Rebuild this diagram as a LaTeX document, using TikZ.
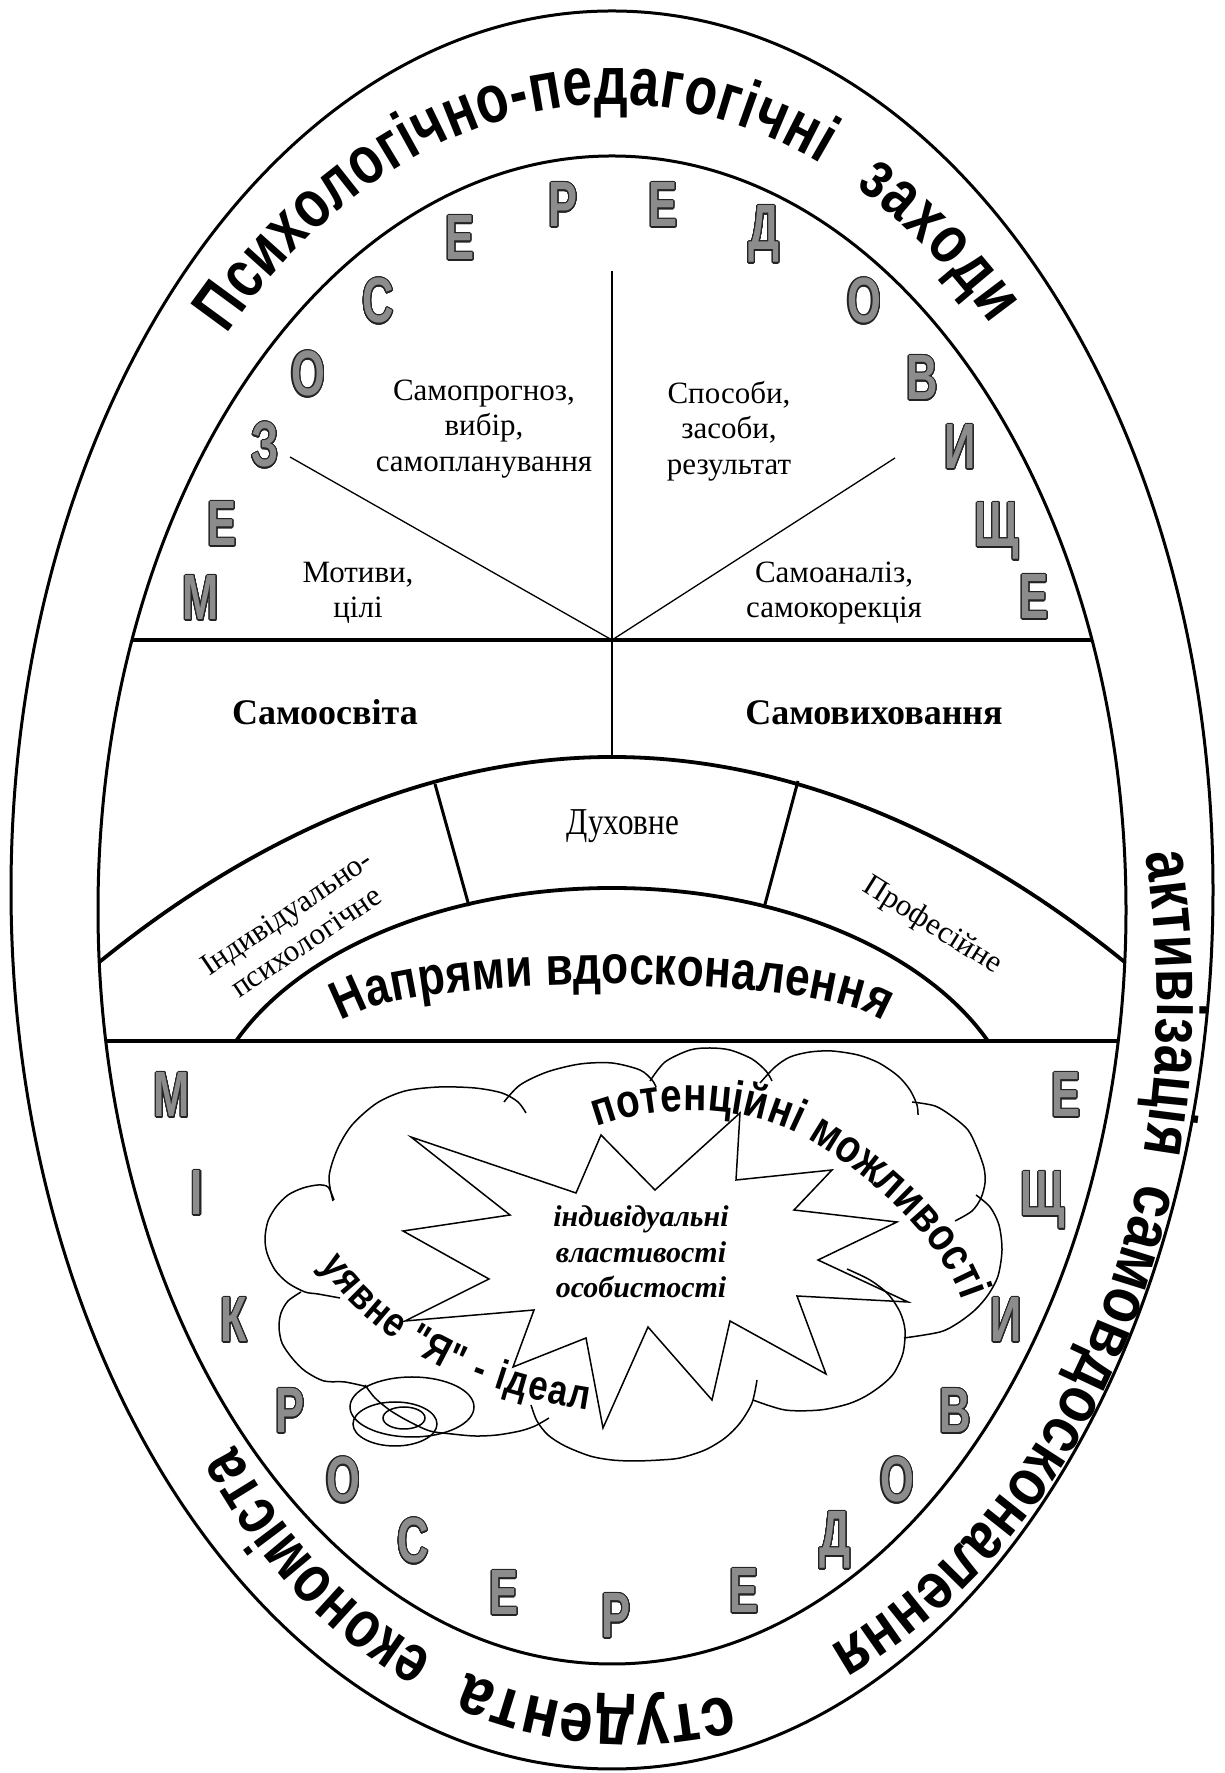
\documentclass[tikz,border=0pt]{standalone}
\usepackage{fontspec}
\setmainfont{Liberation Serif}
\newfontfamily\artfont[FakeStretch=0.82]{Liberation Sans}
\newfontfamily\ringart[FakeStretch=0.78]{Liberation Sans}
\newfontfamily\wideart[FakeStretch=0.86]{Liberation Sans}
\newfontfamily\chfont[FakeStretch=0.68]{Liberation Sans}
\newfontfamily\narrowserif[FakeStretch=0.82]{Liberation Serif}
\usepackage{contour}
\contourlength{1.1pt}
\contournumber{24}
\usetikzlibrary{decorations.text}
\definecolor{chfill}{RGB}{140,140,140}
\definecolor{chline}{RGB}{35,35,35}
\newcommand{\ringfont}{\ringart\bfseries\fontsize{68}{68}\selectfont}
\newcommand{\arcfont}{\artfont\bfseries\fontsize{54}{54}\selectfont}
\newcommand{\cloudfont}{\artfont\bfseries\fontsize{47}{47}\selectfont}
\newcommand{\dreamfont}{\artfont\bfseries\fontsize{42}{42}\selectfont}
\newcommand{\graych}[1]{\textcolor{chfill}{\contour{chline}{#1}}}
\tikzset{
  ringline/.style={draw, line width=3pt},
  thickrule/.style={draw, line width=4.6pt},
  arcline/.style={draw, line width=3.8pt},
  divider/.style={draw, line width=3pt},
  spine/.style={draw, line width=2pt},
  spoke/.style={draw, line width=1.3pt},
  cloudline/.style={draw, line width=1.5pt},
  cell/.style={font=\fontsize{31}{35.5}\selectfont, align=center, inner sep=0pt},
  boldcell/.style={font=\bfseries\fontsize{36}{40}\selectfont, inner sep=0pt, anchor=base},
  graychar/.style={font=\chfont\bfseries\fontsize{64}{64}\selectfont, inner sep=0pt, anchor=base},
  arctext/.style={decorate, decoration={text along path, text align={fit to path}, text={#1}}},
}

\begin{document}
\begin{tikzpicture}[x=1pt, y=1pt]
\useasboundingbox (0,0) rectangle (1224,1773);
\fill[white] (0,0) rectangle (1224,1773);

% oval rings
\draw[ringline] (612,883) ellipse [x radius=601, y radius=879];
\draw[ringline] (612,863) ellipse [x radius=514, y radius=754];

\begin{scope}
  \clip (612,863) ellipse [x radius=514, y radius=754];
  \draw[thickrule] (0,1133) -- (1224,1133);
  \draw[thickrule] (0,732) -- (1224,732);
  \clip (0,732) rectangle (1224,1773);
  \draw[arcline] (92,805) parabola bend (612,1016) (1132,805);
  \draw[arcline] (612,630) ellipse [x radius=410, y radius=255];
\end{scope}

\coordinate (hub) at (612,1133);
\coordinate (spine top) at (612,1502);
\coordinate (spine foot) at (612,1016);
\coordinate (ray left) at (290,1316);
\coordinate (ray right) at (895,1315);
\draw[spine] (spine top) -- (spine foot);
\draw[spoke] (hub) -- (ray left);
\draw[spoke] (hub) -- (ray right);
\draw[divider] (435,989) -- (469,867);
\draw[divider] (798,992) -- (764,865);

% upper sectors
\node[cell] (forecast) at (484,1344) {Самопрогноз,\\вибір,\\самопланування};
\node[cell] (means) at (729,1342) {Способи,\\засоби,\\результат};
\node[cell] (motives) at (358,1180) {Мотиви,\\цілі};
\node[cell] (analysis) at (834,1180) {Самоаналіз,\\самокорекція};
\node[boldcell] (study) at (325,1048) {Самоосвіта};
\node[boldcell] (upbring) at (874,1048) {Самовиховання};

% directions
\node[font=\narrowserif\fontsize{38}{38}\selectfont, inner sep=0pt, anchor=base] (spirit) at (623,938) {Духовне};
\node[cell, rotate=34] (personal) at (296,846) {Індивідуально-\\психологічне};
\node[cell, rotate=-32] (profession) at (932,847) {Професійне};
\path[arctext={|\arcfont|Напрями вдосконалення}] (341.2,751) arc[start angle=170, end angle=10, x radius=275, y radius=46];

% ring captions
\path[arctext={|\ringfont|Психологічно-педагогічні}] (226.6,1438.8) arc[start angle=135, end angle=67.5, x radius=545, y radius=786];
\path[arctext={|\ringfont|заходи}] (855.2,1586.4) arc[start angle=63.5, end angle=46, x radius=545, y radius=786];
\path[arctext={|\ringfont|активізація}] (1145.1,919.6) arc[start angle=12, end angle=-12.5, x radius=545, y radius=705];
\path[arctext={|\wideart\bfseries\fontsize{66}{66}\selectfont|самовдосконалення}] (1138.4,590.5) arc[start angle=-15, end angle=-66, x radius=545, y radius=705];
\path[arctext={|\wideart\bfseries\fontsize{70}{70}\selectfont|студента}] (730.6,78.2) arc[start angle=-77.5, end angle=-110.5, x radius=465, y radius=558];
\path[arctext={|\ringfont|економіста}] (433.5,117.3) arc[start angle=-115, end angle=-148, x radius=465, y radius=558];

% meso and micro letters
\foreach \ch/\x/\y [count=\i] in {М/201/1153, Е/222/1227, З/265/1306, О/308/1377, С/378/1450, Е/460/1513, Р/563/1546, Е/663/1546, Д/764/1523, О/864/1450, В/922/1373, И/960/1304, Щ/997/1226, Е/1034/1154}
  \node[graychar] (meso\i) at (\x,\y) {\graych{\ch}};
\foreach \ch/\x/\y [count=\i] in {М/172/656, І/197/558, К/234/431, Р/290/340, О/343/271, С/413/210, Е/504/158, Р/616/135, Е/744/160, Д/835/217, О/897/271, В/955/340, И/1006/431, Щ/1043/557, Е/1066/656}
  \node[graychar] (micro\i) at (\x,\y) {\graych{\ch}};

% cloud
\draw[cloudline] plot[smooth] coordinates {(333,572) (329,596) (337,623) (352,648) (377,670) (405,682) (439,686) (475,685) (502,680) (518,671) (526,660)};
\draw[cloudline] plot[smooth] coordinates {(504,671) (520,688) (547,701) (580,709) (612,710) (640,703) (652,693) (656,686)};
\draw[cloudline] plot[smooth] coordinates {(650,692) (665,711) (690,723) (710,725) (730,723) (752,714) (766,702) (772,692)};
\draw[cloudline] plot[smooth] coordinates {(760,690) (775,706) (790,716) (810,721) (832,722) (858,718) (879,710) (898,697) (910,683) (917,668) (918,658)};
\draw[cloudline] plot[smooth] coordinates {(912,671) (935,667) (953,656) (968,643) (977,625) (984,605) (985,590) (981,575) (972,562) (955,552)};
\draw[cloudline] plot[smooth] coordinates {(976,578) (990,566) (999,548) (1002,523) (998,497) (988,478) (975,463) (958,450) (940,441) (904,435)};
\draw[cloudline] plot[smooth] coordinates {(847,504) (870,493) (888,479) (900,461) (905,443) (903,420) (894,400) (882,388) (866,377) (848,369) (820,363) (785,363) (753,373)};
\draw[cloudline] plot[smooth] coordinates {(757,393) (752,370) (740,350) (725,335) (705,323) (680,315) (660,313) (635,312) (612,313) (590,317) (565,327) (548,338) (537,352) (531,368)};
\draw[cloudline] plot[smooth] coordinates {(549,355) (535,347) (520,342) (497,338) (475,337) (452,339) (430,342) (410,351) (391,362) (375,375) (365,388)};
\draw[cloudline] plot[smooth] coordinates {(368,386) (345,391) (324,392) (305,402) (292,415) (282,430) (279,446) (281,460) (288,472) (301,481)};
\draw[cloudline] plot[smooth] coordinates {(340,475) (318,479) (305,481) (288,490) (275,503) (267,520) (265,535) (268,552) (276,566) (288,578) (303,585) (318,588) (328,586) (334,573)};

% thought bubbles
\draw[cloudline] (412,366) ellipse [x radius=62, y radius=30];
\draw[cloudline] (395,349) ellipse [x radius=42, y radius=22];
\draw[cloudline] (404,355) ellipse [x radius=21, y radius=11];

% burst
\draw[cloudline] (411,636) -- (576,580) -- (601,638) -- (655,583) -- (740,660) -- (736,593) -- (832,603) -- (794,563) -- (897,551) -- (818,513) -- (908,471) -- (797,477) -- (826,399) -- (730,452) -- (712,373) -- (648,446) -- (603,345) -- (586,435) -- (513,406) -- (534,463) -- (405,452) -- (489,494) -- (403,542) -- (510,558) -- cycle;

\node[font=\bfseries\itshape\fontsize{30}{35.5}\selectfont, align=center, inner sep=0pt] (traits) at (641,521) {індивідуальні\\властивості\\особистості};
\path[arctext={|\cloudfont|потенційні можливості}] (597,646) .. controls (650,666) and (735,672) .. (800,638) .. controls (855,609) and (940,540) .. (962,472);
\path[arctext={|\dreamfont|уявне "Я" - ідеал}] (320,508) .. controls (360,448) and (440,385) .. (588,363);
\end{tikzpicture}
\end{document}
